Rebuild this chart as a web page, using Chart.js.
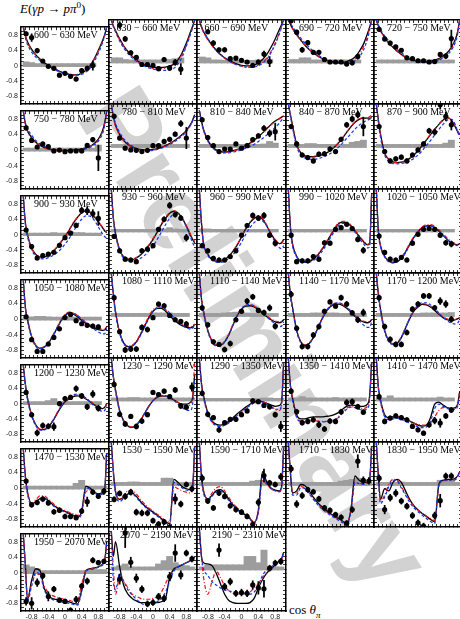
<!DOCTYPE html>
<html lang="en">
<head>
<meta charset="UTF-8">
<meta name="viewport" content="width=device-width, initial-scale=1.0">
<title>E(gamma p -> p pi0)</title>
<style>
  html, body { margin: 0; padding: 0; background: #fff; }
  body { width: 460px; height: 619px; position: relative; overflow: hidden; }
  canvas { position: absolute; }
  #wm { position: absolute; left: 256px; top: 338px; transform: translate(-50%, -50%) rotate(58deg);
        font: bold 104px "Liberation Sans", sans-serif; color: #d2d2d2; white-space: nowrap; line-height: 1; }
  #title { position: absolute; left: 20px; top: 1px; font: 13px "Liberation Serif", serif; }
  #xtitle { position: absolute; left: 289px; top: 602px; font: 13px "Liberation Serif", serif; }
  sup, sub { font-size: 70%; line-height: 0; }
</style>
</head>
<body>
<div id="wm">Preliminary</div>
<div id="title"><i>E</i>(<i>γp</i> → <i>pπ</i><sup>0</sup>)</div>
<div id="xtitle">cos <i>θ</i><sub><i>π</i></sub></div>
<script src="https://cdn.jsdelivr.net/npm/chart.js@4.4.1/dist/chart.umd.min.js"></script>
<script>
'use strict';

// energy bins, one panel each
var energyBins = [
  '600 − 630 MeV', '630 − 660 MeV', '660 − 690 MeV', '690 − 720 MeV', '720 − 750 MeV',
  '750 − 780 MeV', '780 − 810 MeV', '810 − 840 MeV', '840 − 870 MeV', '870 − 900 MeV',
  '900 − 930 MeV', '930 − 960 MeV', '960 − 990 MeV', '990 − 1020 MeV', '1020 − 1050 MeV',
  '1050 − 1080 MeV', '1080 − 1110 MeV', '1110 − 1140 MeV', '1140 − 1170 MeV', '1170 − 1200 MeV',
  '1200 − 1230 MeV', '1230 − 1290 MeV', '1290 − 1350 MeV', '1350 − 1410 MeV', '1410 − 1470 MeV',
  '1470 − 1530 MeV', '1530 − 1590 MeV', '1590 − 1710 MeV', '1710 − 1830 MeV', '1830 − 1950 MeV',
  '1950 − 2070 MeV', '2070 − 2190 MeV', '2190 − 2310 MeV'
];

// cos(theta) bin centres of the measurement
var cosBins = [-0.933, -0.8, -0.667, -0.533, -0.4, -0.267, -0.133, 0, 0.133, 0.267, 0.4, 0.533, 0.667, 0.8, 0.933];
var BIN_WIDTH = 0.1333;

// cos(theta) grid of the model curves
var curveCos = [-1, -0.95, -0.9, -0.8, -0.7, -0.6, -0.5, -0.4, -0.3, -0.2, -0.1, 0, 0.1, 0.2, 0.3, 0.4, 0.5, 0.6, 0.7, 0.8, 0.9, 0.95, 1];

var tickValues = [-0.9, -0.8, -0.7, -0.6, -0.5, -0.4, -0.3, -0.2, -0.1, 0, 0.1, 0.2, 0.3, 0.4, 0.5, 0.6, 0.7, 0.8, 0.9];
var tickLabels = [-0.8, -0.4, 0, 0.4, 0.8];

// measured E per panel (null = no point)
var measuredE = [
  [0.83, 0.73, 0.39, 0.12, -0.02, -0.07, -0.25, -0.2, -0.28, -0.35, -0.13, -0.07, 0.0, null, null],
  [null, 0.88, 0.55, 0.22, 0.11, -0.06, -0.06, -0.08, -0.16, 0.06, -0.14, -0.01, -0.17, null, null],
  [null, 0.72, 0.45, 0.29, 0.29, 0.08, 0.09, 0.04, 0.0, -0.08, 0.0, 0.19, 0.01, null, null],
  [0.98, 0.71, 0.29, 0.46, 0.23, 0.23, 0.06, 0.0, 0.0, 0.0, -0.05, -0.02, 0.13, null, null],
  [0.78, 0.55, 0.45, 0.36, 0.28, 0.1, 0.08, 0.03, 0.03, 0.0, 0.01, 0.18, 0.14, 0.56, null],
  [0.57, 0.25, 0.08, 0.16, 0.09, -0.02, 0.0, -0.04, -0.02, -0.02, -0.02, 0.12, 0.27, -0.2, null],
  [0.71, 0.2, -0.04, -0.08, -0.09, -0.12, -0.09, 0.02, 0.02, 0.12, 0.17, 0.29, 0.54, 0.2, null],
  [0.63, 0.21, 0.02, -0.12, -0.06, -0.06, 0.06, -0.04, 0.02, 0.16, 0.25, 0.43, 0.31, 0.35, null],
  [0.47, 0.06, -0.2, -0.26, -0.34, -0.18, -0.17, -0.06, -0.12, 0.17, 0.51, 0.65, 0.75, 0.47, null],
  [0.47, -0.12, -0.34, -0.29, -0.25, -0.34, -0.2, -0.08, 0.06, 0.37, 0.34, 0.98, 0.71, 0.51, null],
  [0.12, -0.31, -0.61, -0.55, -0.51, -0.46, -0.28, -0.08, 0.04, 0.24, 0.63, 0.62, 0.55, 0.42, null],
  [-0.13, -0.47, -0.67, -0.69, -0.73, -0.47, -0.43, -0.35, 0.04, 0.28, 0.61, 0.39, 0.31, -0.16, null],
  [-0.35, -0.47, -0.65, -0.69, -0.69, -0.61, -0.47, -0.1, 0.13, 0.37, 0.31, 0.37, -0.1, -0.29, null],
  [-0.1, -0.73, -0.71, -0.71, -0.61, -0.67, -0.28, -0.29, 0.04, 0.08, 0.16, 0.06, -0.2, -0.46, null],
  [-0.12, -0.51, -0.67, -0.69, -0.63, -0.69, -0.29, -0.08, 0.04, 0.06, 0.04, -0.1, -0.28, -0.31, null],
  [0.06, -0.53, -0.83, -0.83, -0.64, -0.47, -0.25, 0.04, 0.12, -0.04, -0.12, -0.16, -0.18, -0.2, null],
  [0.42, -0.38, -0.81, -0.79, -0.79, -0.28, -0.33, -0.05, 0.27, 0.23, 0.0, -0.1, -0.14, -0.2, null],
  [0.18, -0.22, -0.62, -0.68, -0.8, -0.66, -0.1, 0.1, 0.34, 0.44, 0.12, 0.07, 0.18, -0.25, null],
  [0.5, -0.3, -0.73, -0.73, -0.46, -0.26, 0.1, 0.32, 0.22, 0.42, 0.27, 0.06, -0.1, 0.07, null],
  [0.42, -0.26, -0.56, -0.68, -0.68, -0.4, 0.15, 0.27, 0.46, 0.46, 0.18, 0.34, 0.27, -0.09, null],
  [0.29, -0.29, -0.76, -0.57, -0.59, -0.6, 0.0, 0.13, 0.16, 0.39, 0.2, -0.08, 0.25, -0.12, null],
  [0.37, -0.34, -0.57, -0.39, -0.63, -0.5, -0.35, 0.18, 0.13, 0.21, 0.08, 0.24, -0.14, -0.17, 0.31],
  [0.16, -0.34, -0.42, -0.71, -0.54, -0.46, -0.46, -0.35, -0.26, -0.02, -0.04, -0.13, -0.16, -0.35, -0.63],
  [0.21, -0.28, -0.54, -0.51, -0.47, -0.59, -0.69, -0.5, -0.51, -0.28, -0.06, -0.04, -0.16, -0.29, null],
  [0.08, -0.51, -0.43, -0.38, -0.42, -0.47, -0.63, -0.71, -0.79, -0.59, -0.49, -0.55, -0.38, -0.24, null],
  [0.18, -0.43, -0.37, -0.28, -0.38, -0.61, -0.57, -0.73, -0.73, -0.76, -0.59, -0.35, -0.1, -0.21, -0.08],
  [-0.35, -0.21, -0.28, -0.18, -0.65, -0.67, -0.67, -0.85, -0.93, -0.88, -1.0, -0.34, -0.46, 0.0, -0.1],
  [0.15, -0.39, -0.55, -0.2, -0.28, -0.5, -0.59, -0.65, -0.75, -0.94, -0.42, 0.21, 0.04, 0.0, 0.18],
  [0.37, -0.46, -0.26, -0.12, -0.17, -0.34, -0.55, -0.61, -0.71, -0.77, -0.91, -0.59, 0.55, 0.1, 0.08],
  [0.15, -0.59, -0.31, -0.2, -0.39, -0.51, -0.73, -0.9, -0.98, null, -0.73, -0.38, 0.2, 0.2, null],
  [-0.75, -0.8, -0.26, -0.08, -0.62, -0.43, -0.72, -0.75, -0.98, -0.7, -0.35, -0.22, 0.32, 0.26, 0.29],
  [null, -0.24, 0.86, 0.16, -0.22, -0.48, -0.83, -0.8, -0.66, -0.7, -0.18, 0.38, -0.14, 0.38, 0.24],
  [null, null, null, 0.45, -0.42, -0.3, -0.58, -0.56, -0.58, -0.38, -0.45, -0.47, 0.02, 0.14, 0.18]
];

// statistical errors
var measuredErr = [
  [0.05, 0.1, 0.06, 0.04, 0.04, 0.04, 0.05, 0.04, 0.05, 0.05, 0.05, 0.06, 0.12, null, null],
  [null, 0.08, 0.06, 0.05, 0.05, 0.05, 0.05, 0.05, 0.05, 0.05, 0.06, 0.07, 0.13, null, null],
  [null, 0.05, 0.06, 0.05, 0.05, 0.04, 0.04, 0.04, 0.04, 0.04, 0.05, 0.07, 0.12, null, null],
  [0.05, 0.05, 0.06, 0.05, 0.05, 0.05, 0.04, 0.04, 0.04, 0.04, 0.04, 0.05, 0.06, null, null],
  [0.05, 0.05, 0.05, 0.04, 0.04, 0.04, 0.04, 0.04, 0.04, 0.04, 0.04, 0.05, 0.06, 0.2, null],
  [0.05, 0.05, 0.04, 0.04, 0.04, 0.04, 0.04, 0.04, 0.04, 0.04, 0.04, 0.05, 0.06, 0.33, null],
  [0.05, 0.05, 0.04, 0.04, 0.04, 0.04, 0.04, 0.04, 0.04, 0.04, 0.05, 0.05, 0.07, 0.25, null],
  [0.05, 0.05, 0.04, 0.04, 0.04, 0.04, 0.04, 0.04, 0.04, 0.05, 0.05, 0.06, 0.08, 0.2, null],
  [0.05, 0.05, 0.05, 0.05, 0.05, 0.05, 0.05, 0.05, 0.05, 0.05, 0.06, 0.07, 0.08, 0.22, null],
  [0.05, 0.05, 0.05, 0.05, 0.05, 0.05, 0.05, 0.05, 0.05, 0.06, 0.07, 0.1, 0.1, 0.12, null],
  [0.05, 0.05, 0.05, 0.05, 0.05, 0.05, 0.05, 0.05, 0.05, 0.06, 0.08, 0.1, 0.1, 0.18, null],
  [0.05, 0.05, 0.05, 0.05, 0.05, 0.05, 0.05, 0.05, 0.05, 0.06, 0.07, 0.06, 0.06, 0.08, null],
  [0.05, 0.05, 0.05, 0.05, 0.05, 0.05, 0.05, 0.05, 0.05, 0.06, 0.06, 0.07, 0.06, 0.07, null],
  [0.05, 0.05, 0.05, 0.05, 0.05, 0.05, 0.05, 0.05, 0.05, 0.05, 0.05, 0.05, 0.06, 0.07, null],
  [0.05, 0.05, 0.05, 0.05, 0.05, 0.05, 0.05, 0.05, 0.05, 0.05, 0.05, 0.05, 0.06, 0.07, null],
  [0.05, 0.05, 0.06, 0.06, 0.05, 0.05, 0.05, 0.05, 0.05, 0.05, 0.05, 0.05, 0.05, 0.05, null],
  [0.06, 0.05, 0.06, 0.06, 0.06, 0.06, 0.06, 0.05, 0.05, 0.05, 0.05, 0.05, 0.05, 0.06, null],
  [0.06, 0.05, 0.05, 0.05, 0.06, 0.06, 0.05, 0.05, 0.06, 0.06, 0.05, 0.06, 0.07, 0.07, null],
  [0.07, 0.06, 0.06, 0.06, 0.06, 0.06, 0.05, 0.05, 0.05, 0.06, 0.06, 0.06, 0.07, 0.08, null],
  [0.06, 0.06, 0.06, 0.06, 0.06, 0.06, 0.06, 0.06, 0.06, 0.06, 0.06, 0.08, 0.08, 0.07, null],
  [0.06, 0.06, 0.08, 0.07, 0.07, 0.1, 0.06, 0.06, 0.06, 0.07, 0.07, 0.08, 0.09, 0.08, null],
  [0.06, 0.06, 0.06, 0.05, 0.06, 0.06, 0.05, 0.05, 0.05, 0.05, 0.05, 0.06, 0.06, 0.06, 0.1],
  [0.06, 0.06, 0.05, 0.06, 0.05, 0.05, 0.05, 0.05, 0.05, 0.05, 0.05, 0.05, 0.06, 0.06, 0.12],
  [0.06, 0.06, 0.06, 0.06, 0.06, 0.07, 0.06, 0.06, 0.06, 0.06, 0.07, 0.07, 0.06, 0.06, null],
  [0.06, 0.06, 0.05, 0.05, 0.05, 0.05, 0.05, 0.05, 0.05, 0.06, 0.08, 0.1, 0.06, 0.06, null],
  [0.06, 0.06, 0.06, 0.06, 0.06, 0.06, 0.06, 0.06, 0.06, 0.06, 0.07, 0.12, 0.06, 0.06, 0.08],
  [0.06, 0.06, 0.07, 0.07, 0.07, 0.07, 0.07, 0.06, 0.06, 0.06, 0.06, 0.12, 0.07, 0.06, 0.07],
  [0.08, 0.06, 0.06, 0.06, 0.06, 0.06, 0.06, 0.06, 0.06, 0.06, 0.08, 0.15, 0.06, 0.06, 0.08],
  [0.08, 0.08, 0.07, 0.06, 0.06, 0.06, 0.06, 0.06, 0.06, 0.06, 0.06, 0.07, 0.15, 0.08, 0.08],
  [0.08, 0.1, 0.08, 0.08, 0.07, 0.07, 0.07, 0.07, 0.07, null, 0.08, 0.15, 0.07, 0.07, null],
  [0.1, 0.15, 0.1, 0.08, 0.12, 0.07, 0.06, 0.06, 0.06, 0.08, 0.07, 0.08, 0.07, 0.06, 0.06],
  [null, 0.12, 0.35, 0.12, 0.1, 0.08, 0.07, 0.07, 0.08, 0.08, 0.1, 0.2, 0.1, 0.07, 0.07],
  [null, null, null, 0.15, 0.08, 0.08, 0.07, 0.08, 0.08, 0.1, 0.15, 0.2, 0.07, 0.07, 0.07]
];

// systematic uncertainty (grey histogram)
var systematicE = [
  [0.1, 0.08, 0.05, 0.05, 0.05, 0.05, 0.05, 0.05, 0.05, 0.05, 0.05, 0.05, 0.06, null, null],
  [0.1, 0.1, 0.06, 0.05, 0.05, 0.05, 0.05, 0.05, 0.05, 0.05, 0.06, 0.08, 0.1, null, null],
  [0.12, 0.1, 0.05, 0.05, 0.04, 0.04, 0.04, 0.04, 0.04, 0.04, 0.05, 0.05, 0.06, null, null],
  [0.06, 0.06, 0.1, 0.1, 0.05, 0.05, 0.05, 0.05, 0.05, 0.05, 0.05, 0.05, 0.05, null, null],
  [0.05, 0.05, 0.05, 0.05, 0.05, 0.05, 0.05, 0.05, 0.05, 0.05, 0.05, 0.05, 0.05, 0.05, null],
  [0.05, 0.05, 0.05, 0.05, 0.05, 0.05, 0.05, 0.05, 0.05, 0.05, 0.05, 0.05, 0.05, 0.13, null],
  [0.05, 0.05, 0.05, 0.05, 0.05, 0.05, 0.05, 0.05, 0.05, 0.05, 0.05, 0.05, 0.05, 0.05, null],
  [0.05, 0.05, 0.05, 0.05, 0.05, 0.05, 0.05, 0.05, 0.05, 0.05, 0.05, 0.06, 0.12, 0.08, null],
  [0.05, 0.05, 0.05, 0.07, 0.07, 0.05, 0.05, 0.05, 0.05, 0.05, 0.05, 0.1, 0.12, 0.15, null],
  [0.05, 0.05, 0.05, 0.05, 0.05, 0.05, 0.05, 0.05, 0.05, 0.05, 0.05, 0.05, 0.08, 0.15, null],
  [0.04, 0.04, 0.04, 0.04, 0.04, 0.05, 0.04, 0.04, 0.04, 0.05, 0.05, 0.04, 0.04, 0.04, null],
  [0.04, 0.04, 0.04, 0.04, 0.04, 0.04, 0.04, 0.04, 0.05, 0.05, 0.08, 0.05, 0.04, 0.04, null],
  [0.05, 0.05, 0.04, 0.04, 0.04, 0.04, 0.04, 0.04, 0.04, 0.04, 0.04, 0.04, 0.04, 0.04, null],
  [0.04, 0.04, 0.04, 0.04, 0.04, 0.04, 0.04, 0.04, 0.04, 0.04, 0.04, 0.04, 0.04, 0.04, null],
  [0.04, 0.04, 0.04, 0.04, 0.04, 0.04, 0.04, 0.04, 0.04, 0.04, 0.04, 0.04, 0.04, 0.04, null],
  [0.05, 0.06, 0.07, 0.07, 0.06, 0.05, 0.05, 0.05, 0.05, 0.05, 0.05, 0.05, 0.05, 0.05, null],
  [0.05, 0.05, 0.05, 0.05, 0.05, 0.05, 0.05, 0.06, 0.06, 0.06, 0.06, 0.05, 0.05, 0.05, null],
  [0.05, 0.05, 0.05, 0.05, 0.06, 0.07, 0.08, 0.07, 0.06, 0.05, 0.05, 0.05, 0.05, 0.05, null],
  [0.05, 0.05, 0.05, 0.05, 0.06, 0.06, 0.06, 0.06, 0.06, 0.05, 0.05, 0.05, 0.05, 0.05, null],
  [0.05, 0.05, 0.05, 0.05, 0.05, 0.05, 0.05, 0.05, 0.06, 0.06, 0.06, 0.06, 0.06, 0.07, null],
  [0.05, 0.05, 0.05, 0.05, 0.08, 0.13, 0.05, 0.05, 0.05, 0.05, 0.05, 0.05, 0.05, 0.05, null],
  [0.05, 0.05, 0.05, 0.06, 0.06, 0.05, 0.05, 0.05, 0.05, 0.05, 0.05, 0.05, 0.05, 0.05, 0.05],
  [0.04, 0.04, 0.04, 0.04, 0.04, 0.04, 0.04, 0.04, 0.04, 0.04, 0.04, 0.05, 0.05, 0.04, 0.04],
  [0.05, 0.05, 0.08, 0.05, 0.05, 0.05, 0.05, 0.05, 0.06, 0.05, 0.05, 0.05, 0.05, 0.05, null],
  [0.05, 0.05, 0.1, 0.05, 0.05, 0.05, 0.05, 0.05, 0.05, 0.05, 0.05, 0.07, 0.05, 0.05, null],
  [0.05, 0.05, 0.05, 0.05, 0.05, 0.05, 0.05, 0.05, 0.05, 0.12, 0.2, 0.05, 0.05, 0.05, 0.05],
  [0.05, 0.05, 0.05, 0.06, 0.06, 0.05, 0.05, 0.05, 0.05, 0.15, 0.15, 0.06, 0.05, 0.05, 0.05],
  [0.05, 0.05, 0.05, 0.05, 0.05, 0.05, 0.05, 0.05, 0.05, 0.08, 0.1, 0.1, 0.05, 0.05, 0.05],
  [0.05, 0.05, 0.05, 0.05, 0.05, 0.05, 0.05, 0.05, 0.05, 0.08, 0.1, 0.12, 0.15, 0.05, 0.05],
  [0.05, 0.05, 0.05, 0.05, 0.06, 0.05, 0.05, 0.05, 0.05, 0.05, 0.05, 0.1, 0.1, 0.1, 0.05],
  [0.2, 0.15, 0.1, 0.05, 0.05, 0.05, 0.05, 0.05, 0.05, 0.05, 0.05, 0.05, 0.08, 0.08, 0.08],
  [0.05, 0.08, 0.12, 0.05, 0.05, 0.05, 0.05, 0.05, 0.12, 0.2, 0.3, 0.15, 0.1, 0.08, 0.05],
  [0.05, 0.1, 0.1, 0.1, 0.1, 0.1, 0.1, 0.1, 0.3, 0.3, 0.15, 0.45, 0.05, 0.05, 0.05]
];

// PWA solutions on curveCos: black solid
var modelBlack = [
  [1, 0.78, 0.62, 0.42, 0.28, 0.17, 0.08, 0, -0.06, -0.11, -0.16, -0.2, -0.23, -0.24, -0.24, -0.2, -0.12, 0, 0.17, 0.4, 0.65, 0.8, 1],
  [1, 0.86, 0.75, 0.55, 0.38, 0.25, 0.14, 0.05, -0.02, -0.07, -0.1, -0.12, -0.13, -0.13, -0.12, -0.1, -0.05, 0.05, 0.22, 0.45, 0.72, 0.85, 1],
  [1, 0.84, 0.72, 0.55, 0.4, 0.28, 0.18, 0.1, 0.04, -0.01, -0.05, -0.08, -0.09, -0.09, -0.07, -0.02, 0.06, 0.18, 0.35, 0.55, 0.78, 0.89, 1],
  [1, 0.9, 0.8, 0.65, 0.52, 0.4, 0.3, 0.22, 0.15, 0.09, 0.05, 0.02, 0, -0.01, -0.01, 0.01, 0.05, 0.12, 0.25, 0.42, 0.68, 0.83, 1],
  [1, 0.86, 0.75, 0.58, 0.45, 0.35, 0.26, 0.18, 0.12, 0.07, 0.04, 0.02, 0.01, 0.01, 0.02, 0.04, 0.08, 0.15, 0.22, 0.35, 0.55, 0.72, 1],
  [1, 0.68, 0.5, 0.32, 0.2, 0.12, 0.07, 0.03, 0.01, 0, -0.01, -0.01, -0.01, 0, 0.01, 0.03, 0.06, 0.1, 0.17, 0.28, 0.5, 0.7, 1],
  [1, 0.7, 0.5, 0.28, 0.14, 0.05, -0.01, -0.05, -0.07, -0.08, -0.08, -0.07, -0.05, -0.02, 0.02, 0.07, 0.13, 0.2, 0.28, 0.38, 0.52, 0.62, 0.75],
  [0.85, 0.6, 0.4, 0.15, 0, -0.08, -0.12, -0.13, -0.12, -0.1, -0.07, -0.03, 0.02, 0.08, 0.15, 0.23, 0.32, 0.42, 0.52, 0.6, 0.66, 0.69, 0.72],
  [1, 0.75, 0.5, 0.05, -0.15, -0.22, -0.24, -0.24, -0.22, -0.2, -0.16, -0.1, -0.02, 0.08, 0.2, 0.33, 0.46, 0.57, 0.64, 0.67, 0.67, 0.67, 0.68],
  [1, 0.62, 0.3, -0.15, -0.3, -0.36, -0.38, -0.37, -0.34, -0.28, -0.2, -0.1, 0.02, 0.15, 0.28, 0.4, 0.52, 0.62, 0.68, 0.62, 0.45, 0.35, 0.28],
  [1, 0.3, 0, -0.35, -0.52, -0.58, -0.58, -0.53, -0.45, -0.34, -0.2, -0.05, 0.12, 0.3, 0.45, 0.57, 0.62, 0.58, 0.47, 0.33, 0.18, 0.1, 0.05],
  [1, 0.3, -0.05, -0.45, -0.62, -0.68, -0.68, -0.64, -0.57, -0.47, -0.35, -0.2, -0.03, 0.15, 0.3, 0.42, 0.47, 0.43, 0.3, 0.12, -0.1, -0.2, -0.28],
  [1, 0.2, -0.3, -0.55, -0.68, -0.72, -0.72, -0.68, -0.6, -0.48, -0.33, -0.15, 0.05, 0.2, 0.3, 0.34, 0.28, 0.12, -0.07, -0.22, -0.3, -0.28, -0.2],
  [1, 0.1, -0.3, -0.6, -0.72, -0.74, -0.72, -0.67, -0.58, -0.45, -0.3, -0.13, 0.03, 0.17, 0.21, 0.2, 0.12, 0, -0.13, -0.25, -0.33, -0.3, 0.9],
  [1, 0, -0.35, -0.6, -0.72, -0.75, -0.73, -0.65, -0.5, -0.32, -0.15, -0.02, 0.08, 0.12, 0.13, 0.08, 0, -0.1, -0.2, -0.28, -0.32, -0.33, -0.3],
  [1, 0.3, 0, -0.45, -0.68, -0.75, -0.72, -0.62, -0.45, -0.25, -0.05, 0.1, 0.15, 0.13, 0.06, -0.03, -0.11, -0.18, -0.23, -0.27, -0.29, -0.28, -0.2],
  [1, 0.5, 0.1, -0.4, -0.65, -0.73, -0.72, -0.62, -0.45, -0.25, -0.05, 0.1, 0.17, 0.17, 0.1, 0, -0.1, -0.18, -0.24, -0.28, -0.29, -0.27, -0.2],
  [1, 0.4, 0.1, -0.35, -0.6, -0.7, -0.7, -0.62, -0.45, -0.22, 0, 0.15, 0.22, 0.23, 0.2, 0.13, 0.05, -0.03, -0.1, -0.15, -0.17, -0.15, -0.1],
  [1, 0.5, 0.2, -0.35, -0.62, -0.7, -0.66, -0.52, -0.32, -0.1, 0.08, 0.2, 0.26, 0.27, 0.24, 0.17, 0.08, -0.02, -0.1, -0.15, -0.17, -0.15, -0.1],
  [1, 0.5, 0.15, -0.35, -0.6, -0.67, -0.65, -0.52, -0.3, -0.08, 0.1, 0.2, 0.26, 0.25, 0.2, 0.12, 0.03, -0.05, -0.1, -0.12, -0.1, -0.08, -0.05],
  [1, 0.5, 0.15, -0.3, -0.55, -0.67, -0.68, -0.6, -0.47, -0.28, -0.1, 0.05, 0.12, 0.18, 0.2, 0.18, 0.12, 0.05, -0.03, -0.1, -0.13, -0.1, 0],
  [1, 0.55, 0.25, -0.25, -0.5, -0.62, -0.65, -0.6, -0.48, -0.32, -0.15, -0.02, 0.06, 0.09, 0.09, 0.06, 0, -0.06, -0.1, -0.1, -0.05, 0.05, 0.6],
  [1, 0.4, 0.1, -0.3, -0.5, -0.58, -0.6, -0.57, -0.5, -0.42, -0.33, -0.25, -0.17, -0.1, -0.05, -0.03, -0.04, -0.08, -0.12, -0.15, -0.13, -0.05, 0.9],
  [1, 0.35, 0.05, -0.35, -0.45, -0.45, -0.42, -0.4, -0.4, -0.4, -0.39, -0.38, -0.35, -0.3, -0.22, -0.15, -0.12, -0.13, -0.15, -0.15, -0.1, 0.1, 0.9],
  [1, 0.3, 0, -0.35, -0.42, -0.4, -0.4, -0.42, -0.45, -0.5, -0.55, -0.6, -0.62, -0.6, -0.42, -0.1, -0.05, -0.12, -0.18, -0.2, -0.18, -0.1, 0.2],
  [1, 0.3, -0.1, -0.4, -0.35, -0.27, -0.25, -0.32, -0.42, -0.5, -0.55, -0.6, -0.65, -0.7, -0.75, -0.6, 0.05, 0, -0.1, -0.15, -0.12, -0.05, 0.9],
  [1, 0.3, -0.15, -0.35, -0.3, -0.22, -0.2, -0.28, -0.4, -0.5, -0.58, -0.65, -0.72, -0.8, -0.88, -0.92, 0.12, 0.05, -0.05, -0.1, -0.12, -0.05, 0.9],
  [1, 0.2, -0.15, -0.35, -0.25, -0.15, -0.12, -0.2, -0.35, -0.48, -0.58, -0.65, -0.72, -0.8, -0.9, -0.6, 0.3, 0.05, -0.08, -0.13, -0.15, -0.05, 0.9],
  [1, 0.3, -0.2, -0.15, 0, -0.03, -0.15, -0.3, -0.42, -0.52, -0.6, -0.68, -0.74, -0.8, -0.86, -0.92, -0.6, 0.2, 0.1, 0.05, 0.05, 0.1, 0.9],
  [1, 0.2, -0.35, -0.1, -0.15, 0.05, 0.12, 0.05, -0.15, -0.35, -0.5, -0.6, -0.68, -0.75, -0.82, -0.88, 0, 0.1, 0.12, 0.12, 0.15, 0.2, 0.3],
  [1, 0.2, -0.7, -0.2, 0.1, 0.05, -0.4, -0.6, -0.68, -0.7, -0.72, -0.74, -0.76, -0.8, -0.82, -0.45, 0.05, 0.1, 0.12, 0.15, 0.22, 0.3, 0.8],
  [0.9, 0.3, 0.65, 0.05, -0.4, -0.6, -0.7, -0.76, -0.8, -0.8, -0.8, -0.8, -0.8, -0.78, -0.7, -0.2, 0, 0.05, 0.1, 0.15, 0.2, 0.22, 0.3],
  [1, 0.3, 0.15, 0.12, 0.08, -0.1, -0.35, -0.6, -0.75, -0.8, -0.82, -0.82, -0.82, -0.8, -0.7, -0.45, -0.25, -0.1, 0, 0.1, 0.2, 0.25, 0.4]
];

// red dash-dotted
var modelRed = [
  [1, 0.77, 0.6, 0.41, 0.27, 0.16, 0.07, 0, -0.07, -0.12, -0.17, -0.21, -0.23, -0.24, -0.23, -0.19, -0.11, 0.01, 0.17, 0.38, 0.62, 0.78, 1],
  [1, 0.85, 0.73, 0.53, 0.37, 0.24, 0.13, 0.04, -0.03, -0.08, -0.12, -0.15, -0.16, -0.16, -0.15, -0.12, -0.06, 0.03, 0.18, 0.4, 0.68, 0.83, 1],
  [1, 0.83, 0.7, 0.53, 0.39, 0.27, 0.17, 0.09, 0.02, -0.03, -0.07, -0.1, -0.12, -0.12, -0.11, -0.07, 0, 0.1, 0.25, 0.45, 0.7, 0.85, 1],
  [1, 0.9, 0.8, 0.64, 0.51, 0.4, 0.3, 0.21, 0.14, 0.08, 0.04, 0, -0.02, -0.03, -0.03, -0.02, 0.01, 0.07, 0.18, 0.35, 0.62, 0.8, 1],
  [1, 0.85, 0.74, 0.57, 0.44, 0.34, 0.25, 0.17, 0.11, 0.06, 0.03, 0.01, 0, 0, 0.01, 0.03, 0.06, 0.12, 0.2, 0.32, 0.52, 0.7, 1],
  [1, 0.66, 0.48, 0.3, 0.19, 0.11, 0.06, 0.02, 0, -0.01, -0.02, -0.02, -0.02, -0.01, 0, 0.02, 0.05, 0.09, 0.15, 0.26, 0.47, 0.68, 1],
  [1, 0.68, 0.48, 0.27, 0.13, 0.04, -0.02, -0.06, -0.08, -0.09, -0.09, -0.08, -0.06, -0.03, 0.01, 0.06, 0.12, 0.19, 0.27, 0.37, 0.5, 0.6, 0.72],
  [0.85, 0.58, 0.38, 0.14, -0.01, -0.09, -0.13, -0.14, -0.13, -0.11, -0.08, -0.04, 0.01, 0.07, 0.14, 0.22, 0.31, 0.41, 0.51, 0.59, 0.65, 0.68, 0.72],
  [1, 0.74, 0.48, 0.04, -0.16, -0.23, -0.25, -0.25, -0.23, -0.2, -0.16, -0.1, -0.02, 0.09, 0.21, 0.34, 0.47, 0.58, 0.65, 0.68, 0.68, 0.7, 0.75],
  [1, 0.6, 0.28, -0.16, -0.31, -0.37, -0.38, -0.37, -0.33, -0.27, -0.19, -0.09, 0.03, 0.16, 0.29, 0.41, 0.53, 0.63, 0.68, 0.63, 0.47, 0.37, 0.3],
  [1, 0.3, 0, -0.35, -0.52, -0.57, -0.57, -0.52, -0.44, -0.33, -0.19, -0.04, 0.13, 0.31, 0.46, 0.58, 0.63, 0.59, 0.48, 0.34, 0.19, 0.11, 0.06],
  [1, 0.3, -0.05, -0.45, -0.62, -0.67, -0.67, -0.63, -0.56, -0.46, -0.33, -0.18, -0.01, 0.17, 0.32, 0.44, 0.48, 0.44, 0.31, 0.13, -0.08, -0.18, -0.25],
  [1, 0.2, -0.3, -0.55, -0.68, -0.72, -0.71, -0.67, -0.59, -0.47, -0.32, -0.13, 0.07, 0.22, 0.32, 0.36, 0.3, 0.14, -0.05, -0.2, -0.3, -0.3, -0.22],
  [1, 0.1, -0.3, -0.6, -0.72, -0.74, -0.71, -0.65, -0.56, -0.43, -0.28, -0.11, 0.05, 0.19, 0.23, 0.22, 0.14, 0.02, -0.11, -0.23, -0.32, -0.28, 0.9],
  [1, 0, -0.35, -0.6, -0.72, -0.74, -0.71, -0.63, -0.48, -0.3, -0.13, 0, 0.1, 0.15, 0.15, 0.11, 0.03, -0.07, -0.17, -0.25, -0.3, -0.32, -0.3],
  [1, 0.3, 0, -0.44, -0.67, -0.74, -0.71, -0.6, -0.43, -0.23, -0.03, 0.12, 0.18, 0.16, 0.09, 0, -0.08, -0.15, -0.2, -0.24, -0.26, -0.26, -0.2],
  [1, 0.5, 0.1, -0.4, -0.64, -0.72, -0.7, -0.6, -0.43, -0.22, -0.02, 0.13, 0.2, 0.2, 0.13, 0.03, -0.07, -0.15, -0.21, -0.25, -0.26, -0.25, -0.2],
  [1, 0.4, 0.1, -0.34, -0.59, -0.69, -0.69, -0.6, -0.43, -0.2, 0.02, 0.17, 0.24, 0.25, 0.22, 0.15, 0.07, -0.01, -0.08, -0.13, -0.15, -0.14, -0.1],
  [1, 0.5, 0.2, -0.34, -0.61, -0.69, -0.65, -0.5, -0.3, -0.08, 0.1, 0.22, 0.28, 0.29, 0.26, 0.19, 0.1, 0, -0.08, -0.13, -0.15, -0.14, -0.1],
  [1, 0.5, 0.15, -0.34, -0.59, -0.66, -0.63, -0.5, -0.28, -0.06, 0.12, 0.22, 0.28, 0.27, 0.22, 0.14, 0.05, -0.03, -0.08, -0.1, -0.09, -0.07, -0.05],
  [1, 0.5, 0.15, -0.3, -0.55, -0.66, -0.66, -0.58, -0.45, -0.26, -0.08, 0.06, 0.14, 0.2, 0.22, 0.2, 0.14, 0.07, -0.01, -0.08, -0.12, -0.1, 0],
  [1, 0.55, 0.25, -0.24, -0.49, -0.61, -0.64, -0.59, -0.47, -0.31, -0.14, -0.01, 0.07, 0.1, 0.1, 0.07, 0.01, -0.06, -0.12, -0.15, -0.1, 0.1, 0.9],
  [1, 0.4, 0.1, -0.31, -0.52, -0.6, -0.62, -0.6, -0.54, -0.46, -0.37, -0.28, -0.2, -0.13, -0.07, -0.04, -0.04, -0.08, -0.15, -0.22, -0.25, -0.1, 0.9],
  [1, 0.35, 0.05, -0.4, -0.5, -0.52, -0.5, -0.49, -0.5, -0.51, -0.51, -0.5, -0.48, -0.4, -0.28, -0.2, -0.15, -0.18, -0.2, -0.2, -0.15, 0.05, 0.9],
  [1, 0.3, 0, -0.38, -0.45, -0.42, -0.4, -0.42, -0.45, -0.5, -0.55, -0.58, -0.6, -0.6, -0.55, -0.4, -0.25, -0.18, -0.18, -0.2, -0.2, -0.12, 0.2],
  [1, 0.3, -0.1, -0.4, -0.3, -0.2, -0.2, -0.28, -0.38, -0.47, -0.53, -0.58, -0.62, -0.66, -0.7, -0.62, -0.1, -0.05, -0.1, -0.15, -0.15, -0.08, 0.9],
  [1, 0.3, -0.15, -0.35, -0.25, -0.15, -0.14, -0.22, -0.35, -0.46, -0.55, -0.62, -0.7, -0.77, -0.85, -0.88, -0.05, -0.1, -0.15, -0.18, -0.2, -0.1, 0.9],
  [1, 0.2, -0.15, -0.33, -0.2, -0.08, -0.05, -0.15, -0.3, -0.45, -0.55, -0.62, -0.7, -0.78, -0.88, -0.65, 0.1, 0, -0.1, -0.15, -0.17, -0.08, 0.9],
  [1, 0.3, -0.2, -0.2, -0.05, -0.08, -0.2, -0.33, -0.45, -0.55, -0.63, -0.7, -0.76, -0.82, -0.88, -0.92, -0.6, 0.05, 0.02, 0.02, 0.05, 0.1, 0.9],
  [1, 0.2, -0.4, -0.25, 0, 0.12, 0.1, -0.05, -0.22, -0.38, -0.5, -0.6, -0.67, -0.74, -0.8, -0.85, -0.05, 0.08, 0.1, 0.1, 0.12, 0.18, 0.3],
  [1, 0.2, -0.65, -0.3, -0.05, -0.05, -0.35, -0.52, -0.6, -0.64, -0.67, -0.7, -0.72, -0.75, -0.72, -0.3, 0.05, 0.1, 0.12, 0.15, 0.22, 0.3, 0.8],
  [0.9, 0, -0.6, -0.2, -0.3, -0.45, -0.6, -0.65, -0.7, -0.72, -0.72, -0.7, -0.65, -0.55, -0.35, -0.15, 0, 0.05, 0.1, 0.15, 0.2, 0.25, 0.3],
  [0.9, 0.3, -0.2, -0.6, -0.3, -0.05, -0.2, -0.4, -0.52, -0.58, -0.6, -0.6, -0.58, -0.55, -0.45, -0.35, -0.2, -0.08, 0.02, 0.1, 0.18, 0.22, 0.4]
];

// blue dashed
var modelBlue = [
  [1, 0.72, 0.55, 0.35, 0.22, 0.13, 0.05, -0.02, -0.08, -0.13, -0.17, -0.21, -0.23, -0.25, -0.25, -0.23, -0.17, -0.07, 0.1, 0.32, 0.6, 0.78, 1],
  [1, 0.84, 0.72, 0.5, 0.33, 0.2, 0.1, 0.02, -0.05, -0.1, -0.14, -0.17, -0.19, -0.2, -0.2, -0.19, -0.15, -0.05, 0.12, 0.38, 0.66, 0.82, 1],
  [1, 0.85, 0.73, 0.56, 0.41, 0.29, 0.19, 0.1, 0.03, -0.03, -0.07, -0.1, -0.12, -0.13, -0.12, -0.09, -0.03, 0.07, 0.22, 0.42, 0.68, 0.83, 1],
  [1, 0.92, 0.85, 0.7, 0.57, 0.45, 0.35, 0.26, 0.18, 0.11, 0.06, 0.02, -0.01, -0.03, -0.04, -0.04, -0.02, 0.03, 0.12, 0.28, 0.55, 0.76, 1],
  [1, 0.88, 0.78, 0.62, 0.5, 0.39, 0.3, 0.22, 0.15, 0.09, 0.05, 0.02, 0, -0.01, -0.01, 0.01, 0.04, 0.1, 0.17, 0.28, 0.48, 0.66, 1],
  [1, 0.7, 0.55, 0.38, 0.25, 0.16, 0.1, 0.05, 0.02, 0, -0.01, -0.02, -0.02, -0.02, -0.01, 0.01, 0.03, 0.07, 0.13, 0.23, 0.42, 0.62, 1],
  [1, 0.72, 0.55, 0.33, 0.18, 0.08, 0.01, -0.04, -0.07, -0.09, -0.1, -0.09, -0.07, -0.04, 0, 0.05, 0.1, 0.17, 0.25, 0.35, 0.5, 0.6, 0.72],
  [0.85, 0.58, 0.38, 0.13, -0.02, -0.1, -0.14, -0.15, -0.15, -0.13, -0.11, -0.08, -0.04, 0, 0.05, 0.12, 0.19, 0.27, 0.36, 0.45, 0.55, 0.62, 0.68],
  [1, 0.72, 0.45, 0, -0.2, -0.27, -0.3, -0.3, -0.29, -0.26, -0.22, -0.17, -0.1, -0.02, 0.08, 0.19, 0.3, 0.41, 0.5, 0.57, 0.62, 0.64, 0.66],
  [1, 0.55, 0.22, -0.2, -0.35, -0.4, -0.41, -0.4, -0.38, -0.34, -0.28, -0.2, -0.1, 0.02, 0.14, 0.27, 0.4, 0.52, 0.62, 0.64, 0.5, 0.35, 0.22],
  [1, 0.25, -0.05, -0.4, -0.56, -0.62, -0.63, -0.6, -0.55, -0.48, -0.38, -0.25, -0.1, 0.08, 0.25, 0.4, 0.49, 0.48, 0.38, 0.2, 0.02, -0.05, -0.1],
  [1, 0.25, -0.08, -0.48, -0.65, -0.71, -0.72, -0.7, -0.65, -0.58, -0.48, -0.36, -0.2, -0.03, 0.15, 0.3, 0.4, 0.4, 0.3, 0.1, -0.15, -0.28, -0.38],
  [1, 0.15, -0.33, -0.58, -0.7, -0.74, -0.75, -0.72, -0.66, -0.56, -0.43, -0.27, -0.08, 0.08, 0.2, 0.26, 0.24, 0.12, -0.08, -0.27, -0.4, -0.42, -0.35],
  [1, 0.05, -0.35, -0.62, -0.73, -0.75, -0.74, -0.7, -0.62, -0.5, -0.35, -0.18, -0.02, 0.12, 0.18, 0.17, 0.1, -0.03, -0.17, -0.3, -0.4, -0.38, 0.9],
  [1, -0.05, -0.38, -0.62, -0.73, -0.76, -0.74, -0.66, -0.52, -0.34, -0.17, -0.04, 0.06, 0.11, 0.12, 0.08, 0, -0.1, -0.2, -0.28, -0.33, -0.35, -0.35],
  [1, 0.25, -0.05, -0.48, -0.7, -0.76, -0.73, -0.63, -0.46, -0.26, -0.06, 0.09, 0.16, 0.15, 0.09, 0, -0.09, -0.18, -0.26, -0.33, -0.38, -0.38, -0.25],
  [1, 0.45, 0.05, -0.43, -0.67, -0.74, -0.72, -0.63, -0.47, -0.27, -0.07, 0.09, 0.18, 0.2, 0.15, 0.06, -0.05, -0.15, -0.23, -0.29, -0.32, -0.3, -0.22],
  [1, 0.35, 0.05, -0.38, -0.62, -0.72, -0.71, -0.63, -0.46, -0.23, 0, 0.16, 0.24, 0.26, 0.23, 0.16, 0.07, -0.03, -0.12, -0.2, -0.26, -0.25, -0.15],
  [1, 0.45, 0.15, -0.38, -0.64, -0.72, -0.67, -0.53, -0.33, -0.11, 0.08, 0.21, 0.28, 0.3, 0.27, 0.2, 0.1, -0.01, -0.12, -0.22, -0.28, -0.28, -0.15],
  [1, 0.45, 0.1, -0.38, -0.62, -0.68, -0.65, -0.52, -0.3, -0.07, 0.12, 0.24, 0.3, 0.3, 0.25, 0.16, 0.06, -0.04, -0.12, -0.18, -0.2, -0.18, -0.1],
  [1, 0.45, 0.1, -0.33, -0.58, -0.69, -0.69, -0.6, -0.46, -0.27, -0.08, 0.08, 0.17, 0.23, 0.25, 0.22, 0.15, 0.05, -0.06, -0.15, -0.2, -0.18, -0.05],
  [1, 0.5, 0.2, -0.28, -0.52, -0.64, -0.66, -0.6, -0.48, -0.32, -0.15, -0.01, 0.08, 0.11, 0.1, 0.06, -0.01, -0.1, -0.18, -0.24, -0.25, -0.1, 0.5],
  [1, 0.35, 0.05, -0.33, -0.53, -0.61, -0.63, -0.6, -0.54, -0.46, -0.37, -0.28, -0.2, -0.13, -0.07, -0.04, -0.05, -0.1, -0.17, -0.22, -0.22, -0.1, 0.9],
  [1, 0.3, 0, -0.42, -0.52, -0.53, -0.51, -0.5, -0.51, -0.52, -0.52, -0.51, -0.48, -0.42, -0.32, -0.22, -0.17, -0.18, -0.22, -0.24, -0.2, 0, 0.9],
  [1, 0.25, -0.05, -0.4, -0.47, -0.45, -0.44, -0.46, -0.5, -0.55, -0.6, -0.64, -0.66, -0.64, -0.5, -0.2, -0.1, -0.15, -0.2, -0.23, -0.22, -0.15, 0.1],
  [1, 0.25, -0.15, -0.45, -0.38, -0.28, -0.27, -0.34, -0.44, -0.52, -0.57, -0.62, -0.67, -0.72, -0.78, -0.65, 0, -0.03, -0.12, -0.18, -0.15, -0.08, 0.9],
  [1, 0.25, -0.2, -0.4, -0.32, -0.24, -0.22, -0.3, -0.42, -0.52, -0.6, -0.67, -0.74, -0.82, -0.9, -0.95, 0.05, 0, -0.08, -0.13, -0.15, -0.08, 0.9],
  [1, 0.15, -0.2, -0.4, -0.28, -0.18, -0.15, -0.23, -0.38, -0.5, -0.6, -0.67, -0.74, -0.82, -0.92, -0.65, 0.2, 0.02, -0.1, -0.15, -0.17, -0.08, 0.9],
  [1, 0.25, -0.25, -0.25, -0.08, -0.1, -0.22, -0.35, -0.47, -0.57, -0.65, -0.72, -0.78, -0.84, -0.9, -0.95, -0.65, 0.05, 0.02, 0, 0.03, 0.1, 0.9],
  [1, 0.15, -0.45, -0.3, -0.05, 0.1, 0.08, -0.08, -0.25, -0.42, -0.55, -0.64, -0.72, -0.8, -0.87, -0.92, 0, 0.1, 0.1, 0.1, 0.12, 0.18, 0.3],
  [1, 0.1, -0.75, -0.35, 0, -0.05, -0.45, -0.62, -0.7, -0.74, -0.76, -0.78, -0.8, -0.83, -0.85, -0.5, 0.02, 0.08, 0.1, 0.14, 0.2, 0.28, 0.8],
  [0.9, -0.3, -0.5, -0.1, -0.3, -0.5, -0.62, -0.72, -0.8, -0.85, -0.85, -0.82, -0.78, -0.7, -0.55, -0.3, -0.05, 0.05, 0.1, 0.15, 0.2, 0.25, 0.3],
  [0.9, 0.3, 0, -0.15, -0.3, -0.38, -0.45, -0.5, -0.52, -0.55, -0.56, -0.57, -0.58, -0.6, -0.55, -0.38, -0.15, -0.02, 0.05, 0.12, 0.18, 0.22, 0.4]
];

// label position inside each panel (px from the left frame)
var labelShift = [13, 7.5, 7.5, 13, 13, 13, 13, 13, 13, 13, 13, 13, 13, 13, 13, 13, 13, 13, 13, 13,
  13, 13, 13, 13, 13, 13, 13, 13, 13, 13, 13, 11, 15];

var SYS_BASE = -0.025;
var PAD = { l: 22, r: 8, t: 3, b: 14 };

var panelLabel = {
  id: 'panelLabel',
  beforeDatasetsDraw: function(chart, args, opts) {
    var ctx = chart.ctx, area = chart.chartArea;
    ctx.save();
    ctx.font = '10px "Liberation Serif", serif';
    ctx.fillStyle = '#000';
    ctx.textBaseline = 'middle';
    ctx.fillText(opts.text, area.left + opts.dx, area.top + 8.5);
    ctx.restore();
  }
};

function setTicks(scale) {
  scale.ticks = tickValues.map(function(v) { return { value: v }; });
}

function tickText(v) {
  return tickLabels.indexOf(v) >= 0 ? String(v) : '';
}

function axis(pos, showLabels, size) {
  var horiz = pos === 'top' || pos === 'bottom';
  return {
    type: 'linear',
    position: pos,
    min: -1,
    max: 1,
    afterBuildTicks: setTicks,
    afterFit: function(s) { if (horiz) { s.height = size; } else { s.width = size; } },
    border: { display: true, color: '#000', width: 1.5 },
    grid: { display: true, drawOnChartArea: false, drawTicks: true, tickLength: -3, color: '#000', lineWidth: 0.8 },
    ticks: {
      display: showLabels,
      autoSkip: false,
      maxRotation: 0,
      padding: horiz ? 5 : 6,
      color: '#222',
      font: { family: 'Liberation Sans', size: 7 },
      callback: tickText
    }
  };
}

function curve(arr) {
  return curveCos.map(function(c, k) { return { x: c, y: arr[k] }; });
}

energyBins.forEach(function(label, i) {
  var col = i % 5, row = Math.floor(i / 5);
  var left = Math.round(20.7 + col * 88.3), right = Math.round(20.7 + (col + 1) * 88.3);
  var top = Math.round(19.8 + row * 84.5), bottom = Math.round(19.8 + (row + 1) * 84.5);
  var w = right - left + PAD.l + PAD.r, h = bottom - top + PAD.t + PAD.b;
  // one cos bin in pixels, so the grey histogram is contiguous
  var binPx = (right - left) * BIN_WIDTH / 2 + 0.4;

  var canvas = document.createElement('canvas');
  canvas.width = w;
  canvas.height = h;
  canvas.style.width = w + 'px';
  canvas.style.height = h + 'px';
  canvas.style.left = (left - PAD.l) + 'px';
  canvas.style.top = (top - PAD.t) + 'px';
  document.body.appendChild(canvas);

  var sys = [], err = [], pts = [];
  cosBins.forEach(function(c, k) {
    if (systematicE[i][k] != null) { sys.push({ x: c, y: [SYS_BASE, systematicE[i][k]] }); }
    var v = measuredE[i][k];
    if (v != null) {
      pts.push({ x: c, y: v });
      err.push({ x: c, y: [v - measuredErr[i][k], v + measuredErr[i][k]] });
    }
  });

  new Chart(canvas.getContext('2d'), {
    type: 'scatter',
    plugins: [panelLabel],
    data: {
      datasets: [{
        type: 'bar', data: sys, order: 6, grouped: false,
        backgroundColor: '#9d9d9d', borderWidth: 0, barThickness: binPx
      }, {
        type: 'line', data: curve(modelBlack[i]), order: 5,
        borderColor: '#000', borderWidth: 1.3, pointRadius: 0, fill: false, cubicInterpolationMode: 'monotone'
      }, {
        type: 'line', data: curve(modelRed[i]), order: 4,
        borderColor: '#e5121b', borderWidth: 1.2, borderDash: [4, 2, 1, 2], pointRadius: 0, fill: false, cubicInterpolationMode: 'monotone'
      }, {
        type: 'line', data: curve(modelBlue[i]), order: 3,
        borderColor: '#1636e0', borderWidth: 1.2, borderDash: [3, 2.2], pointRadius: 0, fill: false, cubicInterpolationMode: 'monotone'
      }, {
        type: 'bar', data: err, order: 2, grouped: false,
        backgroundColor: '#000', borderWidth: 0, barThickness: 1.1
      }, {
        type: 'scatter', data: pts, order: 1,
        pointRadius: 2.6, pointBackgroundColor: '#000', pointBorderWidth: 0, borderColor: '#000'
      }]
    },
    options: {
      responsive: false,
      devicePixelRatio: 1,
      animation: false,
      events: [],
      layout: { padding: 0, autoPadding: false },
      plugins: {
        legend: { display: false },
        tooltip: { enabled: false },
        panelLabel: { text: label, dx: labelShift[i] }
      },
      scales: {
        x: axis('bottom', row === 6, PAD.b),
        x2: axis('top', false, PAD.t),
        y: axis('left', col === 0, PAD.l),
        y2: axis('right', false, PAD.r)
      }
    }
  });
});
</script>
</body>
</html>
